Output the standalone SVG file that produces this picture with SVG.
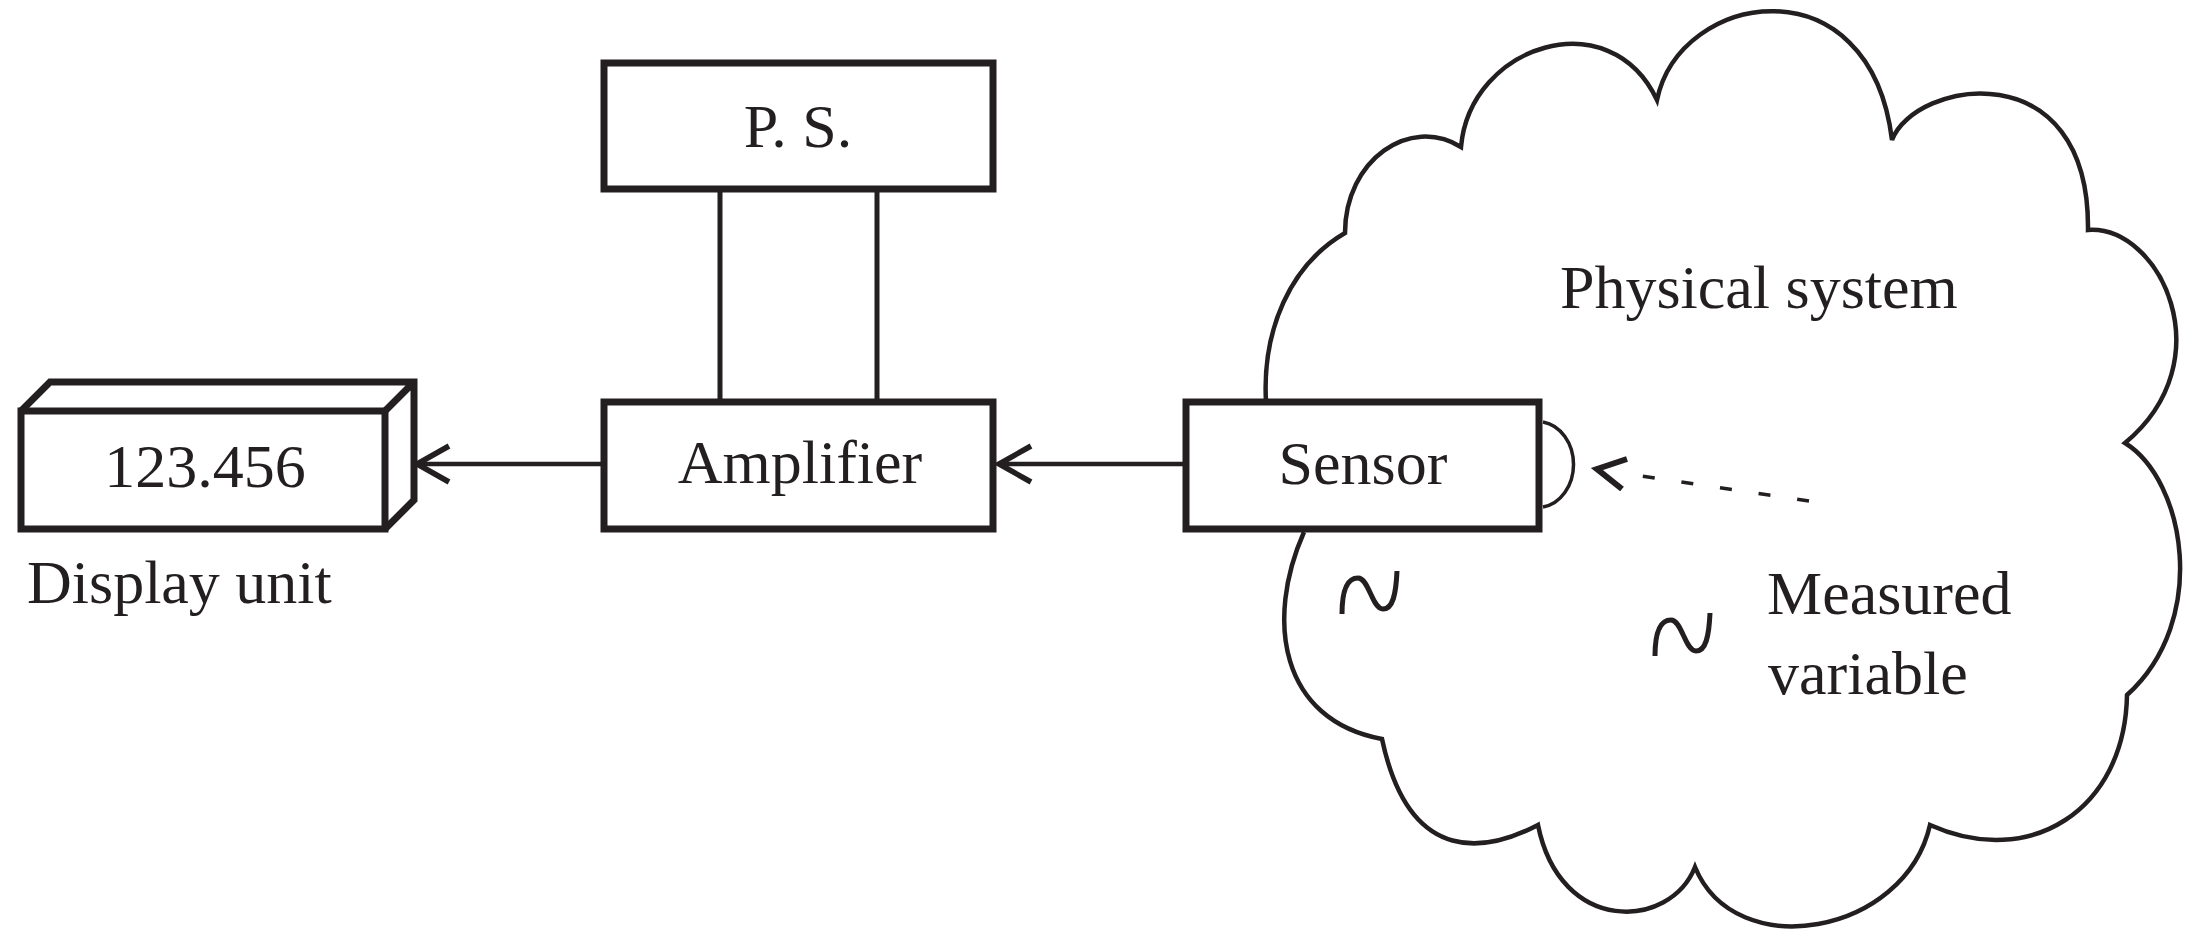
<svg xmlns="http://www.w3.org/2000/svg" width="2201" height="932" viewBox="0 0 2201 932">
  <style>
    .box { fill: #ffffff; stroke: #231f20; stroke-width: 7; }
    .edge { fill: none; stroke: #231f20; stroke-width: 7; stroke-linejoin: miter; }
    .wire { fill: none; stroke: #231f20; stroke-width: 5; }
    .flow { fill: none; stroke: #231f20; stroke-width: 4.5; }
    .thin { fill: none; stroke: #231f20; stroke-width: 3.5; }
    .cloud { fill: none; stroke: #231f20; stroke-width: 4.5; stroke-linejoin: miter; }
    .dash { fill: none; stroke: #231f20; stroke-width: 3.5; stroke-dasharray: 12 27; }
    .head { fill: none; stroke: #231f20; stroke-width: 6; stroke-linejoin: miter; }
    .squiggle { fill: none; stroke: #231f20; stroke-width: 5; stroke-linecap: butt; }
    .label { font-family: "Liberation Serif", "Times New Roman", serif; font-size: 62px; fill: #231f20; }
  </style>
  <defs>
    <marker id="open-arrow" markerUnits="userSpaceOnUse" viewBox="-40 -25 45 50" markerWidth="45" markerHeight="50" refX="0" refY="0" orient="auto" overflow="visible">
      <path d="M-32,-18 L0,0 L-32,18" fill="none" stroke="#231f20" stroke-width="5.5"/>
    </marker>
  </defs>

  <rect width="2201" height="932" fill="#ffffff"/>

  <!-- physical system outline (passes behind the sensor) -->
  <g id="physical-system">
    <path class="cloud" d="M1266,402
      C1262,330 1290,265 1345,233
      C1345,160 1410,115 1461,147
      C1470,45 1610,0 1657,100
      C1680,-10 1870,-40 1892,140
      C1915,80 2090,50 2088,230
      C2160,225 2225,360 2125,443
      C2185,480 2210,620 2127,695
      C2125,810 2030,870 1930,825
      C1905,935 1735,965 1695,867
      C1670,930 1560,935 1538,825
      C1490,850 1410,870 1382,739
      C1280,720 1265,620 1304,532"/>
    <text class="label" x="1560" y="308">Physical system</text>
  </g>

  <g id="connectors">
    <!-- power supply leads -->
    <line class="wire" x1="720" y1="189" x2="720" y2="402"/>
    <line class="wire" x1="877" y1="189" x2="877" y2="402"/>
    <!-- signal path -->
    <line class="flow" x1="1186" y1="464" x2="999" y2="464" marker-end="url(#open-arrow)"/>
    <line class="flow" x1="604" y1="464" x2="417" y2="464" marker-end="url(#open-arrow)"/>
    <!-- measured variable acting on the sensor -->
    <line class="dash" x1="1809" y1="501" x2="1641" y2="476"/>
    <path class="head" d="M1627,459 L1597,469 L1622,489"/>
  </g>

  <g id="display-unit">
    <path class="edge" d="M21,411 L50,382 L414,382 L414,500 L385,529 M385,411 L414,382"/>
    <rect class="box" x="21" y="411" width="364" height="118"/>
    <text class="label" x="205" y="487" text-anchor="middle">123.456</text>
    <text class="label" x="27" y="603">Display unit</text>
  </g>

  <g id="power-supply">
    <rect class="box" x="604" y="63" width="389" height="126"/>
    <text class="label" x="798" y="147" text-anchor="middle">P. S.</text>
  </g>

  <g id="amplifier">
    <rect class="box" x="604" y="402" width="389" height="127"/>
    <text class="label" x="800" y="483" text-anchor="middle">Amplifier</text>
  </g>

  <g id="sensor">
    <rect class="box" x="1186" y="402" width="353" height="127"/>
    <path class="thin" d="M1543,422 A36,43 0 0 1 1543,507"/>
    <text class="label" x="1363" y="484" text-anchor="middle">Sensor</text>
  </g>

  <g id="measured-variable">
    <path class="squiggle" d="M1342,614 C1342,586 1349,578 1358,578 C1369,578 1372,609 1383,609 C1393,609 1396,594 1397,571"/>
    <path class="squiggle" d="M1655,656 C1655,628 1662,620 1671,620 C1682,620 1685,651 1696,651 C1706,651 1709,636 1710,613"/>
    <text class="label" x="1767" y="614">Measured</text>
    <text class="label" x="1768" y="694">variable</text>
  </g>
</svg>
